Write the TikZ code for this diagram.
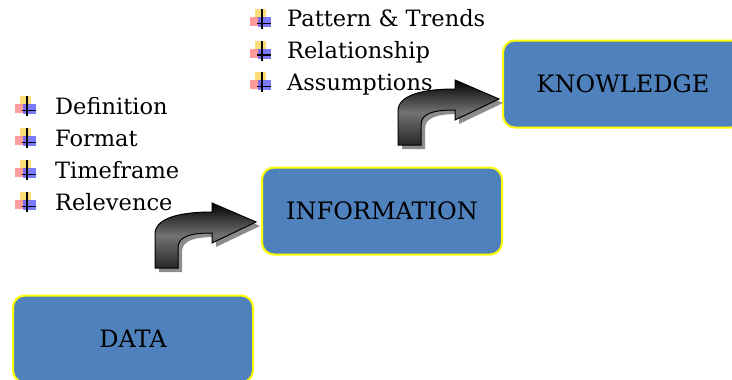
\documentclass[tikz,border=0pt]{standalone}
\usepackage{fontspec}
\setmainfont{DejaVu Serif}
\definecolor{boxblue}{HTML}{4F81BD}
\definecolor{boxedge}{HTML}{FFFF00}
\definecolor{bulyellow}{HTML}{FFD75E}
\definecolor{bulred}{HTML}{FF7A7A}
\definecolor{bulblue}{HTML}{5A5AFF}
\tikzset{
  stagebox/.style={draw=boxedge, line width=2pt, fill=boxblue, rounded corners=12pt,
    minimum width=240pt, minimum height=87pt, inner sep=0pt,
    font=\fontsize{24}{28}\selectfont, text=black},
  itemtext/.style={anchor=base west, inner sep=0pt, font=\fontsize{22.5}{27}\selectfont},
  bulleticon/.pic={
    \fill[bulyellow, opacity=0.85] (-7,-10) rectangle (4,-1);
    \fill[bulred, opacity=0.75] (-12,-2) rectangle (-2,7);
    \fill[bulblue, opacity=0.8] (-4,-2) rectangle (9,8);
    \draw[black, line width=1.4pt] (0,-10) -- (0,10);
    \draw[black, line width=1.4pt] (-5,4.5) -- (9,4.5);
  },
  bentarrow/.pic={
    \fill[black!45, shift={(4,4)}]
      (0,0) -- (0,-34) .. controls (0,-50) and (25,-56) .. (57,-56) -- (57,-65)
      -- (101,-46) -- (57,-25) -- (57,-35) .. controls (36,-35) and (23,-32) .. (23,-20)
      -- (23,0) -- cycle;
    \path[draw=black, line width=1pt, top color=black, bottom color=black!85, middle color=black!55]
      (0,0) -- (0,-34) .. controls (0,-50) and (25,-56) .. (57,-56) -- (57,-65)
      -- (101,-46) -- (57,-25) -- (57,-35) .. controls (36,-35) and (23,-32) .. (23,-20)
      -- (23,0) -- cycle;
  }
}
\begin{document}
\begin{tikzpicture}[x=1pt, y=-1pt]
\useasboundingbox (0,0) rectangle (732,380);
\clip (0,0) rectangle (732,380);

% stage boxes
\node[stagebox] (data) at (133,339) {DATA};
\node[stagebox] (info) at (382,211) {INFORMATION};
\node[stagebox] (know) at (623,84) {KNOWLEDGE};

% bent arrows between stages
\pic at (155,268) {bentarrow};
\pic at (398,145) {bentarrow};

% list beside the data box
\node[itemtext] (i1) at (55,114) {Definition};
\node[itemtext] (i2) at (55,146) {Format};
\node[itemtext] (i3) at (55,178) {Timeframe};
\node[itemtext] (i4) at (55,210) {Relevence};
\foreach \n in {1,...,4} { \pic at ([xshift=-28pt, yshift=8pt]i\n.base west) {bulleticon}; }

% list beside the information box
\node[itemtext] (k1) at (287,27) {Pattern \& Trends};
\node[itemtext] (k2) at (287,58.5) {Relationship};
\node[itemtext] (k3) at (287,90) {Assumptions};
\foreach \n in {1,...,3} { \pic at ([xshift=-25pt, yshift=8pt]k\n.base west) {bulleticon}; }
\end{tikzpicture}
\end{document}
